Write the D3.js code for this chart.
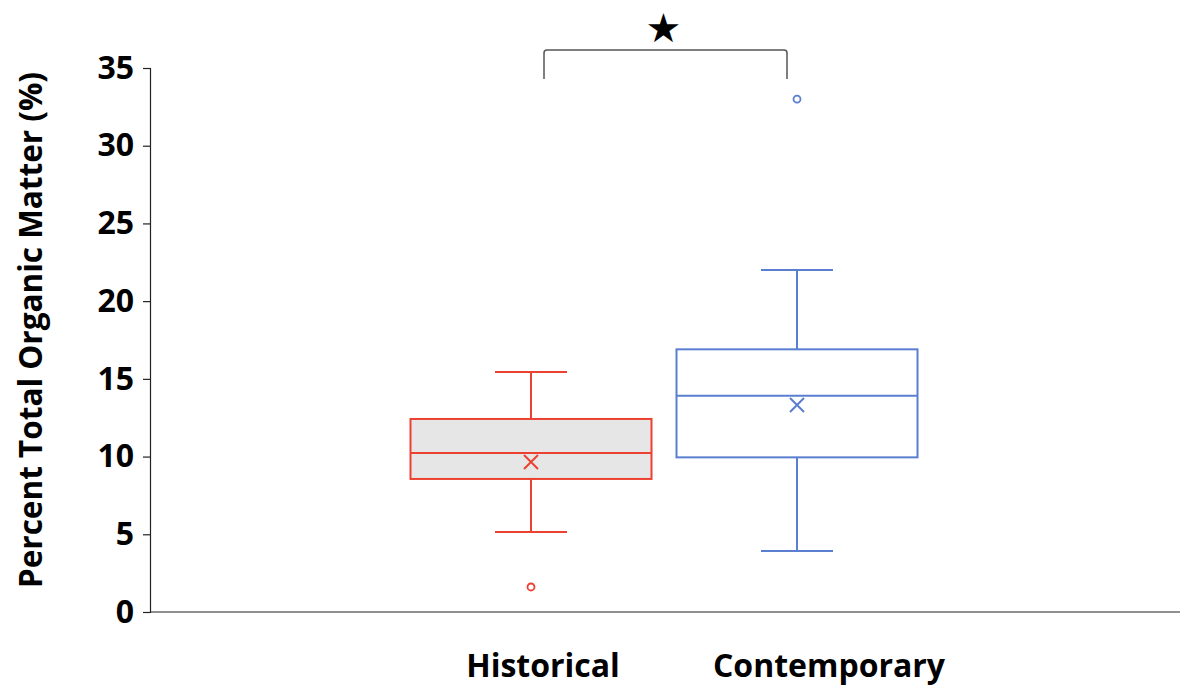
<!DOCTYPE html>
<html>
<head>
<meta charset="utf-8">
<script src="https://cdn.jsdelivr.net/npm/d3@7"></script>
<style>
  html, body { margin: 0; padding: 0; background: #fff; }
  svg { display: block; }
</style>
</head>
<body>
<svg id="chart" width="1180" height="694"></svg>
<script>
// Groups and their five-number summaries (percent total organic matter)
const categories = ["Historical", "Contemporary"];
const whiskerLow  = [5.15, 3.92];
const quartile1   = [8.56, 9.95];
const medians     = [10.23, 13.92];
const quartile3   = [12.42, 16.90];
const whiskerHigh = [15.44, 22.0];
const means       = [9.65, 13.32];
const outliers    = [[1.61], [33.0]];
const yTicks      = [0, 5, 10, 15, 20, 25, 30, 35];
const colors      = ["#ec4130", "#5b7fd0"];
const fills       = ["#e6e6e6", "#ffffff"];

const svg = d3.select("#chart");
const FONT = "'Open Sans', Lato, sans-serif";

const y = d3.scaleLinear().domain([0, 35]).range([612, 68]);
const xBox = d3.scalePoint().domain(categories).range([531, 797]);
const xLabel = d3.scalePoint().domain(categories).range([543, 829]);
const boxW = 241, capW = 72;

// Y axis
const yAxis = d3.axisLeft(y).tickValues(yTicks).tickSize(7).tickPadding(9);
const gy = svg.append("g").attr("transform", "translate(150,0)").call(yAxis);
gy.select(".domain").attr("stroke", "#222").attr("stroke-width", 1.2);
gy.selectAll(".tick line").attr("stroke", "#222").attr("stroke-width", 1.2);
gy.selectAll(".tick text")
  .attr("font-family", FONT).attr("font-weight", "bold")
  .attr("font-size", 32).attr("fill", "#000");

// X baseline
svg.append("line")
  .attr("x1", 150).attr("x2", 1180)
  .attr("y1", y(0)).attr("y2", y(0))
  .attr("stroke", "#222").attr("stroke-width", 1.2);

// Category labels
svg.selectAll("text.cat").data(categories).join("text")
  .attr("class", "cat")
  .attr("x", d => xLabel(d)).attr("y", 677)
  .attr("text-anchor", "middle")
  .attr("font-family", FONT).attr("font-weight", "bold")
  .attr("font-size", 32).attr("fill", "#000")
  .text(d => d);

// Y axis title
svg.append("text")
  .attr("transform", `translate(42,330) rotate(-90)`)
  .attr("text-anchor", "middle")
  .attr("font-family", FONT).attr("font-weight", "bold")
  .attr("font-size", 31.5).attr("fill", "#000")
  .text("Percent Total Organic Matter (%)");

// Box plots
categories.forEach((c, i) => {
  const g = svg.append("g");
  const cx = xBox(c);
  const col = colors[i];
  const sw = 2;
  // whiskers
  g.append("line").attr("x1", cx).attr("x2", cx)
    .attr("y1", y(quartile3[i])).attr("y2", y(whiskerHigh[i]))
    .attr("stroke", col).attr("stroke-width", sw);
  g.append("line").attr("x1", cx).attr("x2", cx)
    .attr("y1", y(quartile1[i])).attr("y2", y(whiskerLow[i]))
    .attr("stroke", col).attr("stroke-width", sw);
  [whiskerHigh[i], whiskerLow[i]].forEach(v => {
    g.append("line").attr("x1", cx - capW / 2).attr("x2", cx + capW / 2)
      .attr("y1", y(v)).attr("y2", y(v))
      .attr("stroke", col).attr("stroke-width", sw);
  });
  // box
  g.append("rect")
    .attr("x", cx - boxW / 2).attr("width", boxW)
    .attr("y", y(quartile3[i])).attr("height", y(quartile1[i]) - y(quartile3[i]))
    .attr("fill", fills[i]).attr("stroke", col).attr("stroke-width", sw);
  // median
  g.append("line").attr("x1", cx - boxW / 2).attr("x2", cx + boxW / 2)
    .attr("y1", y(medians[i])).attr("y2", y(medians[i]))
    .attr("stroke", col).attr("stroke-width", sw);
  // mean marker
  const m = y(means[i]), s = 7;
  g.append("path")
    .attr("d", `M${cx - s},${m - s}L${cx + s},${m + s}M${cx - s},${m + s}L${cx + s},${m - s}`)
    .attr("stroke", col).attr("stroke-width", sw).attr("fill", "none");
  // outliers
  g.selectAll("circle").data(outliers[i]).join("circle")
    .attr("cx", cx).attr("cy", d => y(d)).attr("r", 3.5)
    .attr("fill", "#fff").attr("stroke", col).attr("stroke-width", 1.8);
});

// Significance bracket
const bx1 = 544, bx2 = 787, by = 50, bDrop = 29;
svg.append("path")
  .attr("d", `M${bx1},${by + bDrop}L${bx1},${by + 3}Q${bx1},${by} ${bx1 + 3},${by}L${bx2 - 3},${by}Q${bx2},${by} ${bx2},${by + 3}L${bx2},${by + bDrop}`)
  .attr("fill", "none").attr("stroke", "#555").attr("stroke-width", 1.5);
svg.append("text")
  .attr("x", (bx1 + bx2) / 2 - 2).attr("y", 42)
  .attr("text-anchor", "middle")
  .attr("font-family", "'DejaVu Sans', sans-serif")
  .attr("font-size", 40).attr("fill", "#000")
  .text("★");
</script>
</body>
</html>
